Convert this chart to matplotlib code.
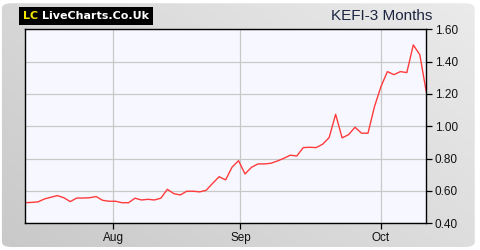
import numpy as np
import matplotlib
matplotlib.use("Agg")
import matplotlib.pyplot as plt
from matplotlib.patches import FancyBboxPatch
from matplotlib.colors import LinearSegmentedColormap

# KEFI share price, last 3 months (trading-day index)
prices = [0.527, 0.529, 0.532, 0.550, 0.561, 0.571, 0.558, 0.534, 0.556, 0.556,
          0.558, 0.565, 0.542, 0.536, 0.536, 0.527, 0.527, 0.555, 0.544, 0.548,
          0.544, 0.555, 0.610, 0.583, 0.575, 0.598, 0.598, 0.594, 0.604, 0.647,
          0.688, 0.668, 0.747, 0.787, 0.705, 0.746, 0.767, 0.767, 0.771, 0.785,
          0.802, 0.821, 0.816, 0.868, 0.870, 0.868, 0.889, 0.930, 1.074, 0.928,
          0.948, 0.994, 0.957, 0.957, 1.121, 1.245, 1.338, 1.319, 1.338, 1.332,
          1.503, 1.443, 1.214]
month_pos = [13.6, 33.3, 55.0]
month_labels = ["Aug", "Sep", "Oct"]
y_ticks = [0.40, 0.60, 0.80, 1.00, 1.20, 1.40, 1.60]

plt.rcParams['font.family'] = ['Liberation Sans', 'DejaVu Sans']

fig = plt.figure(figsize=(4.8, 2.5), dpi=100)
fig.patch.set_facecolor("white")

# grey gradient panel with rounded corners
bg = fig.add_axes([0, 0, 1, 1])
bg.set_xlim(0, 1)
bg.set_ylim(0, 1)
bg.axis("off")
gx, gy = np.meshgrid(np.linspace(0, 1, 200), np.linspace(0, 1, 100))
grad = 0.6 * gx + 0.4 * gy
cmap = LinearSegmentedColormap.from_list("panel", ["#c9c9c9", "#ebebeb"])
img = bg.imshow(grad, extent=[0, 1, 0, 1], origin="lower", cmap=cmap,
                vmin=0, vmax=1, aspect="auto")
box = FancyBboxPatch((0.004, 0.012), 0.985, 0.975,
                     boxstyle="round,pad=0,rounding_size=0.02",
                     transform=bg.transAxes, facecolor="none", edgecolor="none")
bg.add_patch(box)
img.set_clip_path(box)

ax = fig.add_axes([0.052, 0.107, 0.836, 0.776])
ax.set_facecolor("#f7f8ff")
x = np.arange(len(prices))
ax.plot(x, prices, color="#ff3b3b", lw=1.0)
ax.set_xlim(0, len(prices) - 1)
ax.set_ylim(0.4, 1.6)

ax.set_xticks(month_pos)
ax.set_xticklabels(month_labels)
ax.set_yticks(y_ticks)
ax.set_yticklabels(["%.2f" % v for v in y_ticks])
ax.yaxis.tick_right()
ax.grid(True, color="#c8c8c8", lw=0.9)
ax.set_axisbelow(True)
ax.tick_params(axis="both", labelsize=8.5, colors="black", length=4,
               width=0.9, pad=2, labelcolor="#111111")
for s in ax.spines.values():
    s.set_color("black")
    s.set_linewidth(1.0)

# logo and title
fig.text(0.048, 0.935, "LC", color="#f5e600", fontsize=8, fontweight="bold",
         va="center", ha="left", family="DejaVu Sans",
         bbox=dict(facecolor="black", edgecolor="none", pad=2.8))
fig.text(0.088, 0.935, "LiveCharts.Co.Uk", color="white", fontsize=8,
         fontweight="bold", va="center", ha="left", family="DejaVu Sans",
         bbox=dict(facecolor="black", edgecolor="none", pad=2.8))
fig.text(0.9, 0.935, "KEFI-3 Months", color="#1c2440", fontsize=11,
         va="center", ha="right")

fig.savefig("out.png", dpi=100, facecolor=fig.get_facecolor())
